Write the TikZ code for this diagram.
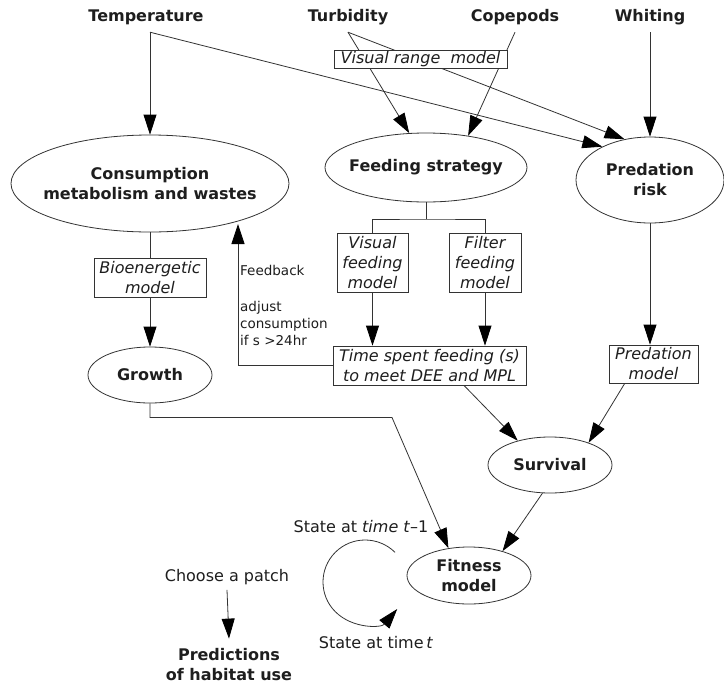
\documentclass[tikz,border=0pt]{standalone}
\usepackage{fontspec}
\setmainfont{DejaVu Sans}
\usetikzlibrary{shapes.geometric,arrows.meta}
\definecolor{ink}{HTML}{1E1E1E}
\definecolor{ln}{HTML}{333333}
\begin{document}
\begin{tikzpicture}[x=1pt,y=-1pt,
  every node/.style={text=ink},
  bfont/.style={font=\fontsize{16}{20}\selectfont\bfseries},
  toplbl/.style={bfont, minimum height=30pt, inner sep=0pt},
  oval/.style={draw=ln, ellipse, inner sep=0pt, line width=0.8pt},
  ovallbl/.style={bfont, align=center, inner sep=0pt},
  mbox/.style={draw=ln, fill=white, inner sep=0pt, align=center,
    font=\fontsize{16}{20}\selectfont\itshape, line width=0.8pt},
  conn/.style={draw=ln, line width=0.8pt},
  arr/.style={conn, -{Triangle[length=20pt,width=13pt,color=black]}},
  plain/.style={font=\fontsize{16}{20}\selectfont, inner sep=0pt},
  small/.style={font=\fontsize{13.5}{17}\selectfont, inner sep=0pt, align=left}
]
\fill[white] (0,0) rectangle (724,686);
\useasboundingbox (0,0) rectangle (724,686);

% top labels
\node[toplbl] (temp) at (146,17) {Temperature};
\node[toplbl] (turb) at (348,17) {Turbidity};
\node[toplbl] (cope) at (515,17) {Copepods};
\node[toplbl] (whit) at (650,17) {Whiting};

% ellipses
\node[oval, minimum width=278pt, minimum height=97pt,
  label={[ovallbl]center:Consumption\\metabolism and wastes}] (cons) at (150,183.5) {};
\node[oval, minimum width=202pt, minimum height=69pt,
  label={[ovallbl]center:Feeding strategy}] (feed) at (426,167.5) {};
\node[oval, minimum width=148pt, minimum height=86pt,
  label={[ovallbl]center:Predation\\risk}] (pred) at (650,180) {};
\node[oval, minimum width=124pt, minimum height=56pt,
  label={[ovallbl]center:Growth}] (grow) at (150,375) {};
\node[oval, minimum width=124pt, minimum height=56pt,
  label={[ovallbl]center:Survival}] (surv) at (550,465) {};
\node[oval, minimum width=124pt, minimum height=57pt,
  label={[ovallbl]center:Fitness\\model}] (fit) at (469,575.5) {};

% lines passing beneath the visual range box
\draw[arr] (cons.north |- temp.south) -- (cons.north);
\draw[arr] (cons.north |- temp.south) -- (pred.145);
\draw[arr] (turb.south) -- (feed.116);
\draw[arr] (turb.south) -- (pred.122);
\draw[arr] (cope.south) -- (feed.37);
\draw[arr] (whit.south) -- (pred.north);

% boxes
\node[mbox, minimum width=173pt, minimum height=18pt] (vrm) at (420.5,59) {Visual range\ \ model};
\node[mbox, minimum width=112pt, minimum height=39pt] (bio) at (150,277.5) {Bioenergetic\\model};
\node[mbox, minimum width=71pt, minimum height=59pt] (vis) at (372.5,262.5) {Visual\\feeding\\model};
\node[mbox, minimum width=72pt, minimum height=59pt] (fil) at (485,262.5) {Filter\\feeding\\model};
\node[mbox, minimum width=193pt, minimum height=39pt] (ts) at (429.5,365.5) {Time spent feeding (s)\\to meet DEE and MPL};
\node[mbox, minimum width=89pt, minimum height=38pt] (pm) at (653.5,364) {Predation\\model};

% feeding strategy branches
\coordinate (br) at (426,219);
\draw[conn] (feed.south) -- (br);
\draw[conn] (vis.north) |- (br) -| (fil.north);
\draw[arr] (vis.south) -- (vis.south |- ts.north);
\draw[arr] (fil.south) -- (fil.south |- ts.north);

% bioenergetics
\draw[conn] (cons.south) -- (bio.north);
\draw[arr] (bio.south) -- (grow.north);

% feedback
\coordinate (fbk) at (238,224);
\draw[arr] (ts.west) -| (fbk);
\node[small, anchor=west] (fbt) at (240,270) {Feedback};
\node[small, anchor=west] (adj) at (240,323) {adjust\\consumption\\if s >24hr};

% predation
\draw[arr] (pred.south) -- (pred.south |- pm.north);
\draw[arr] (pm.214) -- (surv.30);
\draw[arr] (ts.-30) -- (surv.143);
\draw[arr] (surv.255) -- (fit.36);

% growth to fitness
\coordinate (gc) at (392,417.5);
\draw[arr] (grow.south) |- (gc) -- (fit.127);

% state loop
\node[plain] (st1) at (361,527) {State at \textit{time t}--1};
\node[plain] (st2) at (376,643) {State at time\,\textit{t}};
\coordinate (lpA) at (395,552.3);
\coordinate (lpB) at (397.2,609);
\draw[arr] (lpA) .. controls (378.3,535.9) and (351.7,535.9) .. (335.3,552.3)
  .. controls (318.9,568.7) and (318.9,595.3) .. (335.3,611.7)
  .. controls (352.7,629.1) and (381.4,627.9) .. (lpB);

% choose a patch
\node[plain] (choose) at (227,577) {Choose a patch};
\node[bfont, align=center, inner sep=0pt] (predic) at (229,665) {Predictions\\of habitat use};
\draw[arr] ([yshift=-5pt]choose.south) -- ([yshift=10pt]predic.north);
\end{tikzpicture}
\end{document}
